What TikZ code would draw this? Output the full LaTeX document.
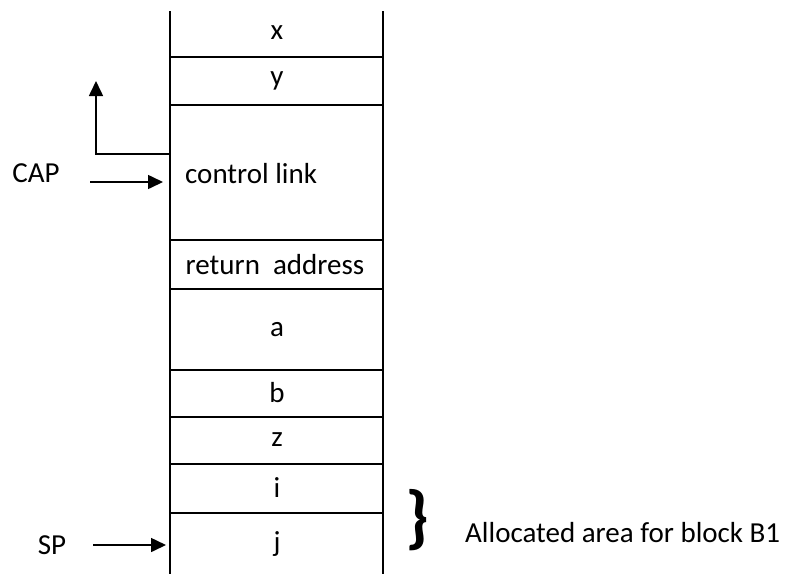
\documentclass[tikz,border=0pt]{standalone}
\usepackage{fontspec}
\setmainfont{Carlito}
\usetikzlibrary{arrows.meta}
\begin{document}
\begin{tikzpicture}[x=1pt,y=-1pt,
  wall/.style={line width=2pt},
  lbl/.style={inner sep=0pt, font=\fontsize{29}{34}\selectfont},
  ptr/.style={line width=1.6pt, -{Triangle[length=15pt,width=14pt]}},
]
\useasboundingbox (0,0) rectangle (791,574);
% stack walls
\draw[wall] (170,11) -- (170,574);
\draw[wall] (383,11) -- (383,574);
% cell separators
\foreach \yy in {57,105,240,289,370,417,464,513}
  \draw[wall] (170,\yy) -- (383,\yy);
% cell contents
\node[lbl] (x)  at (277,33)  {x};
\node[lbl] (y)  at (277,81)  {y};
\node[lbl, anchor=west] (cl) at (185,174) {control link};
\node[lbl] (ra) at (275,265) {return\ \ address};
\node[lbl] (a)  at (277,330) {a};
\node[lbl] (b)  at (277,393) {b};
\node[lbl] (z)  at (277,440) {z};
\node[lbl] (i)  at (277,488) {i};
\node[lbl] (j)  at (277,544) {j};
% pointers
\node[lbl] (cap) at (36,173) {CAP};
\node[lbl] (sp)  at (52,545) {SP};
\coordinate (capend) at (163,182);
\coordinate (spend)  at (166,545);
\draw[ptr] (90,182) -- (capend);
\draw[ptr] (93,545) -- (spend);
% control link
\coordinate (clout) at (170,154);
\coordinate (cltip) at (96,81);
\draw[ptr] (clout) -| (cltip);
% brace and note
\node[inner sep=0pt, font=\fontsize{70}{70}\selectfont\bfseries] (br) at (418,520) {\}};
\node[lbl, anchor=west] (note) at (465,533) {Allocated area for block B1};
\end{tikzpicture}
\end{document}
